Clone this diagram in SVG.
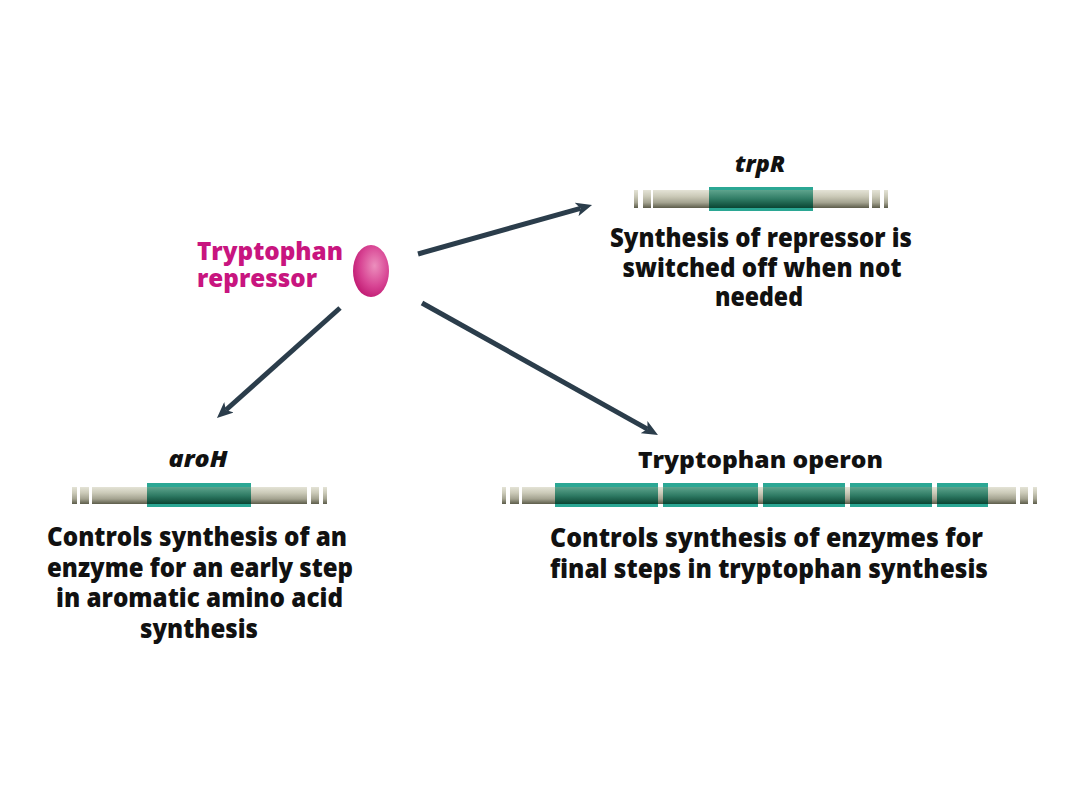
<svg xmlns="http://www.w3.org/2000/svg" width="1080" height="810" viewBox="0 0 1080 810">
<defs>
<linearGradient id="gray" x1="0" y1="0" x2="0" y2="1">
<stop offset="0" stop-color="#e4e3d6"/>
<stop offset="0.35" stop-color="#cbcab8"/>
<stop offset="0.7" stop-color="#a4a390"/>
<stop offset="1" stop-color="#5c5c4a"/>
</linearGradient>
<linearGradient id="green" x1="0" y1="0" x2="0" y2="1">
<stop offset="0" stop-color="#5ea48d"/>
<stop offset="0.5" stop-color="#2f7b64"/>
<stop offset="1" stop-color="#0a4533"/>
</linearGradient>
<radialGradient id="pink" cx="0.6" cy="0.4" r="0.65">
<stop offset="0" stop-color="#ec8fbd"/>
<stop offset="0.6" stop-color="#d84594"/>
<stop offset="1" stop-color="#c01a72"/>
</radialGradient>
<marker id="ah" viewBox="0 0 16 14" markerWidth="16" markerHeight="14" refX="4" refY="7" orient="auto" markerUnits="userSpaceOnUse">
<path d="M0,0 L16,7 L0,14 L4,7 z" fill="#2b3d4b"/>
</marker>
<style>
.gr{fill:url(#gray)}
.gt{fill:#2ba794}
.gi{fill:url(#green)}
.t{font-family:"Open Sans","Noto Sans",sans-serif;font-weight:800;font-size:26px;fill:#111;text-anchor:middle}
.lbl{font-family:"Open Sans","Noto Sans",sans-serif;font-weight:800;font-size:23px;fill:#111;text-anchor:middle}
.it{font-style:italic}
.mg{font-family:"Open Sans","Noto Sans",sans-serif;font-weight:800;font-size:25px;fill:#c8157f}
.arr{stroke:#2b3d4b;stroke-width:5;fill:none;marker-end:url(#ah)}
</style>
</defs>
<rect width="1080" height="810" fill="#fff"/>

<g id="repressor">
<ellipse cx="371" cy="271" rx="18" ry="26" fill="url(#pink)"/>
<text class="mg" x="197" y="260" textLength="146" lengthAdjust="spacingAndGlyphs">Tryptophan</text>
<text class="mg" x="197" y="287" textLength="120" lengthAdjust="spacingAndGlyphs">repressor</text>
</g>

<g id="trpR">
<text class="lbl it" x="760" y="172" textLength="50" lengthAdjust="spacingAndGlyphs">trpR</text>
<rect class="gr" x="634" y="190" width="4" height="18"/>
<rect class="gr" x="643" y="190" width="8" height="18"/>
<rect class="gr" x="653" y="190" width="216" height="18"/>
<rect class="gr" x="872" y="190" width="8" height="18"/>
<rect class="gr" x="884" y="190" width="4" height="18"/>
<rect class="gt" x="709" y="187" width="104" height="24"/>
<rect class="gi" x="709" y="190" width="104" height="18"/>
<text class="t" x="761" y="247" textLength="302" lengthAdjust="spacingAndGlyphs">Synthesis of repressor is</text>
<text class="t" x="762" y="277" textLength="279" lengthAdjust="spacingAndGlyphs">switched off when not</text>
<text class="t" x="759" y="306" textLength="88" lengthAdjust="spacingAndGlyphs">needed</text>
</g>

<g id="aroH">
<text class="lbl it" x="198" y="467" textLength="59" lengthAdjust="spacingAndGlyphs">aroH</text>
<rect class="gr" x="72" y="487" width="5" height="17"/>
<rect class="gr" x="80" y="487" width="9" height="17"/>
<rect class="gr" x="92" y="487" width="215" height="17"/>
<rect class="gr" x="311" y="487" width="8" height="17"/>
<rect class="gr" x="323" y="487" width="4" height="17"/>
<rect class="gt" x="147" y="483" width="104" height="24"/>
<rect class="gi" x="147" y="487" width="104" height="17"/>
<text class="t" x="197" y="546" textLength="300" lengthAdjust="spacingAndGlyphs">Controls synthesis of an</text>
<text class="t" x="200" y="577" textLength="306" lengthAdjust="spacingAndGlyphs">enzyme for an early step</text>
<text class="t" x="199.5" y="607" textLength="287" lengthAdjust="spacingAndGlyphs">in aromatic amino acid</text>
<text class="t" x="199" y="638" textLength="118" lengthAdjust="spacingAndGlyphs">synthesis</text>
</g>

<g id="operon">
<text class="lbl" x="760.5" y="468" textLength="245" lengthAdjust="spacingAndGlyphs">Tryptophan operon</text>
<rect class="gr" x="502" y="487" width="4" height="17"/>
<rect class="gr" x="510" y="487" width="9" height="17"/>
<rect class="gr" x="522" y="487" width="494" height="17"/>
<rect class="gr" x="1020" y="487" width="8" height="17"/>
<rect class="gr" x="1033" y="487" width="4" height="17"/>
<rect class="gt" x="555" y="483" width="103" height="24"/>
<rect class="gi" x="555" y="487" width="103" height="17"/>
<rect class="gt" x="663" y="483" width="95" height="24"/>
<rect class="gi" x="663" y="487" width="95" height="17"/>
<rect class="gt" x="763" y="483" width="82" height="24"/>
<rect class="gi" x="763" y="487" width="82" height="17"/>
<rect class="gt" x="850" y="483" width="82" height="24"/>
<rect class="gi" x="850" y="487" width="82" height="17"/>
<rect class="gt" x="937" y="483" width="51" height="24"/>
<rect class="gi" x="937" y="487" width="51" height="17"/>
<text class="t" x="766.5" y="547" textLength="433" lengthAdjust="spacingAndGlyphs">Controls synthesis of enzymes for</text>
<text class="t" x="769" y="578" textLength="438" lengthAdjust="spacingAndGlyphs">final steps in tryptophan synthesis</text>
</g>

<g id="connectors">
<line class="arr" x1="418" y1="254" x2="580.5" y2="208.3"/>
<line class="arr" x1="340" y1="308" x2="225.9" y2="410"/>
<line class="arr" x1="422" y1="303" x2="647.5" y2="429.1"/>
</g>
</svg>
